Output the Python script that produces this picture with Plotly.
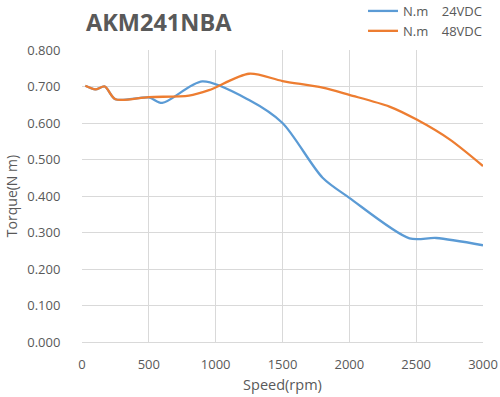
import plotly.graph_objects as go

speed_24 = [25, 100, 170, 250, 500, 600, 900, 1250, 1500, 1800, 2000, 2450, 2650, 3000]
torque_24 = [0.702, 0.692, 0.700, 0.665, 0.670, 0.655, 0.714, 0.663, 0.600, 0.450, 0.395, 0.284, 0.285, 0.265]

speed_48 = [25, 100, 170, 250, 500, 800, 950, 1250, 1500, 1800, 2000, 2300, 2500, 2750, 3000]
torque_48 = [0.702, 0.692, 0.700, 0.665, 0.671, 0.675, 0.690, 0.735, 0.715, 0.697, 0.677, 0.645, 0.610, 0.555, 0.482]

name_24 = "N.m\u00a0\u00a0\u00a0\u00a024VDC"
name_48 = "N.m\u00a0\u00a0\u00a0\u00a048VDC"

grey = "#595959"
font = "Open Sans"

fig = go.Figure()
fig.add_trace(go.Scatter(x=speed_24, y=torque_24, mode="lines", name=name_24,
                         line=dict(color="#5B9BD5", width=2.3, shape="spline", smoothing=0.8)))
fig.add_trace(go.Scatter(x=speed_48, y=torque_48, mode="lines", name=name_48,
                         line=dict(color="#ED7D31", width=2.3, shape="spline", smoothing=0.8)))

fig.update_layout(
    width=500, height=397,
    paper_bgcolor="white", plot_bgcolor="white",
    margin=dict(l=82, r=17, t=50, b=55, autoexpand=False),
    font=dict(family=font, color=grey, size=13),
    title=dict(text="<b>AKM241NBA</b>", x=86 / 500, xref="container", xanchor="left",
               y=1 - 23 / 397, yref="container", yanchor="middle",
               font=dict(size=23.5, color=grey, family=font)),
    legend=dict(x=1.01, xanchor="right", y=1.185, yanchor="top", xref="paper",
                font=dict(size=13, color=grey), bgcolor="rgba(0,0,0,0)",
                tracegroupgap=0, itemwidth=30),
    showlegend=True,
)
fig.update_xaxes(range=[0, 3000], dtick=500, showgrid=True, gridcolor="#D9D9D9",
                 zeroline=False, showline=True, linecolor="#D9D9D9",
                 title=dict(text="Speed(rpm)", font=dict(size=14.5, color=grey), standoff=8),
                 tickfont=dict(size=13, color=grey), ticks="outside", ticklen=10,
                 tickcolor="rgba(0,0,0,0)")
fig.update_yaxes(range=[0, 0.8], dtick=0.1, tickformat=".3f", showgrid=True, gridcolor="#D9D9D9",
                 zeroline=False, showline=False,
                 title=dict(text="Torque(N m)", font=dict(size=14, color=grey), standoff=6),
                 tickfont=dict(size=13, color=grey), ticks="outside", ticklen=18,
                 tickcolor="rgba(0,0,0,0)")

fig.write_html("out.html", config={"displayModeBar": False},
               post_script="document.body.style.margin='0';")
